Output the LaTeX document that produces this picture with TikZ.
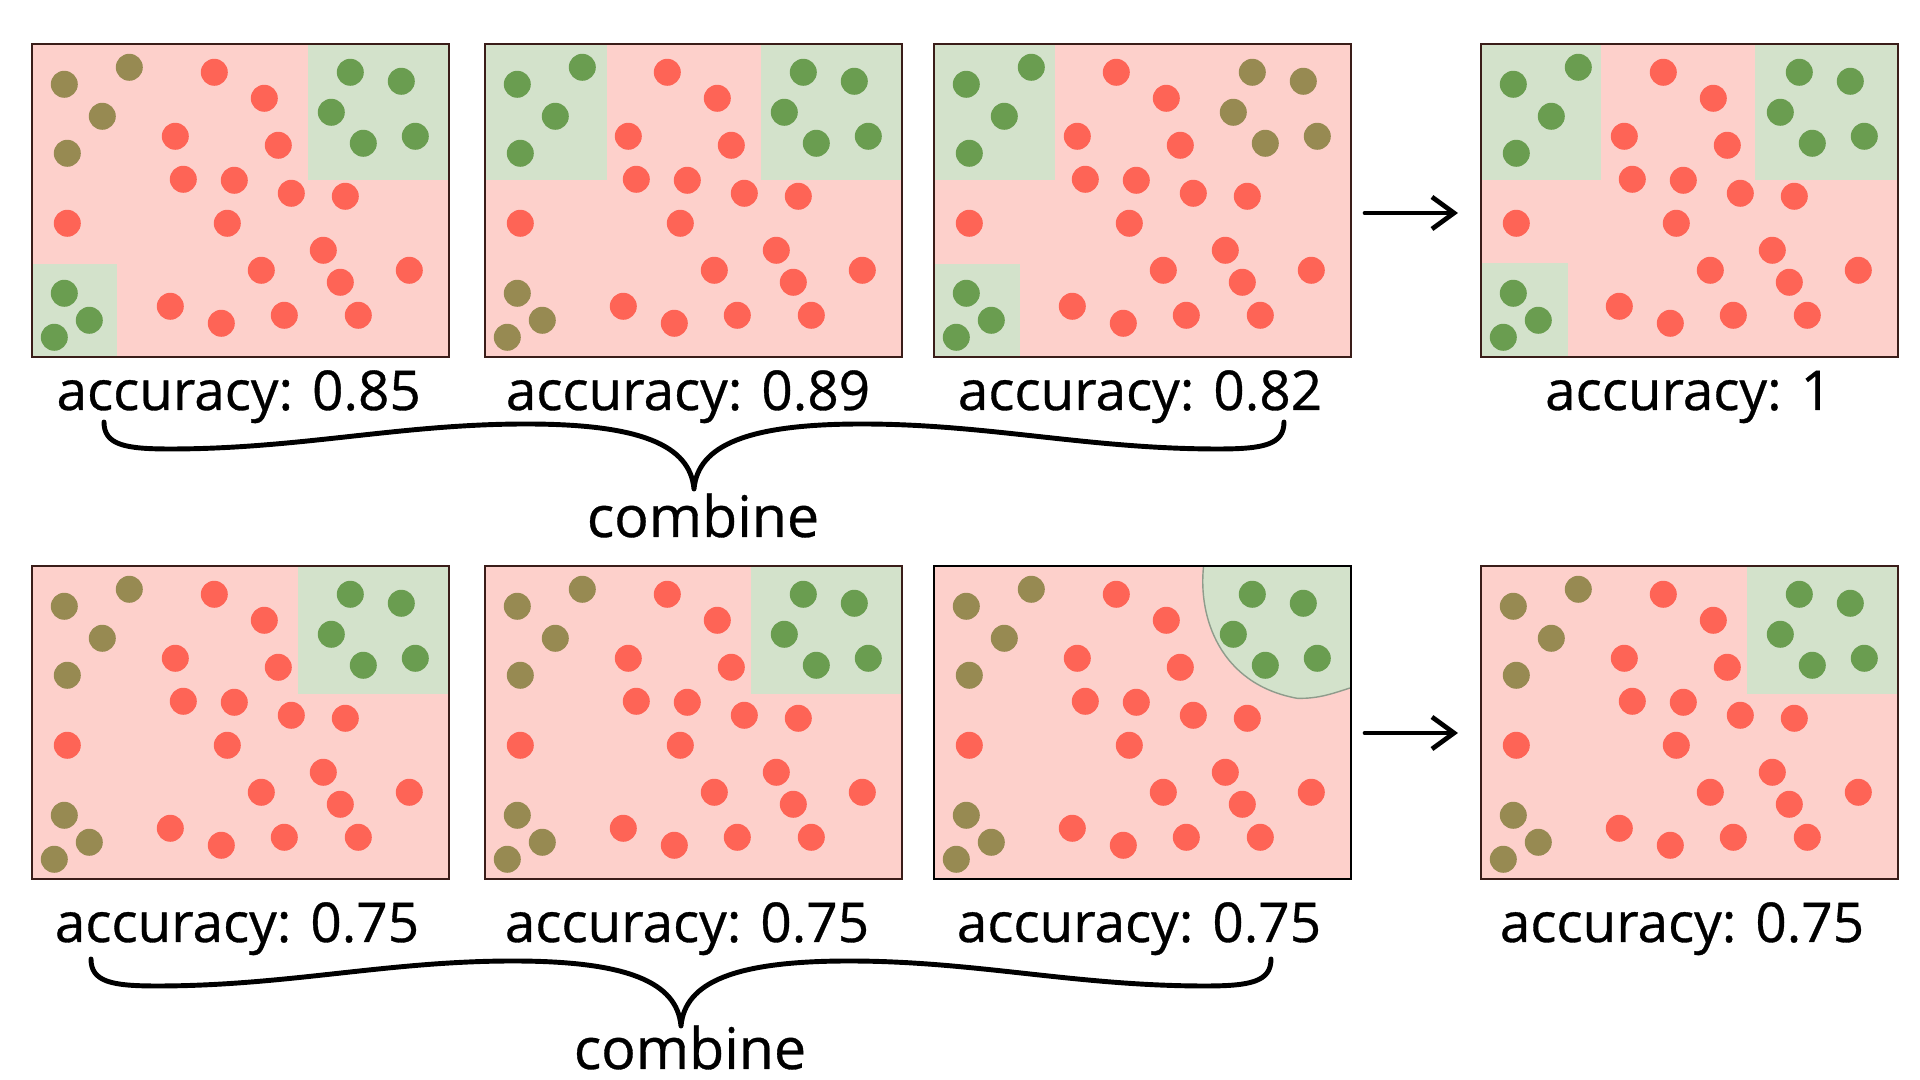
\documentclass[tikz,border=0pt]{standalone}
\usepackage{fontspec}
\setmainfont{Open Sans}[FakeBold=0.6]
\usetikzlibrary{arrows.meta}
\definecolor{bgpink}{HTML}{FDD0CB}
\definecolor{bggreen}{HTML}{D3E2CB}
\definecolor{dred}{HTML}{FE6456}
\definecolor{dgreen}{HTML}{6A9D50}
\definecolor{dolive}{HTML}{978A52}
\definecolor{framec}{HTML}{3A1D19}
\definecolor{blobline}{HTML}{8F9C8C}
\newcommand{\pdots}[3]{%
  \foreach \x/\y in {32.3/40.3, 97.3/23.3, 70.3/72.3, 35.3/109.3}
    \fill[#1] (\x,\y) circle[radius=13.5];
  \foreach \x/\y in {318.3/28.3, 369.3/37.3, 299.3/68.3, 331.3/99.3, 383.3/92.3}
    \fill[#2] (\x,\y) circle[radius=13.5];
  \foreach \x/\y in {32.3/249.3, 57.3/276.3, 22.3/293.3}
    \fill[#3] (\x,\y) circle[radius=13.5];
  \foreach \x/\y in {182.3/28.3, 232.3/54.3, 143.3/92.3, 246.3/101.3, 151.3/135.3,
      202.3/136.3, 259.3/149.3, 313.3/152.3, 35.3/179.3, 195.3/179.3, 291.3/206.3,
      229.3/226.3, 308.3/238.3, 377.3/226.3, 138.3/262.3, 189.3/279.3, 252.3/271.3, 326.3/271.3}
    \fill[dred] (\x,\y) circle[radius=13.5];
}
\newcommand{\combbrace}[2]{%
  \draw[bracestyle, shift={(#1,#2)}] (-590,-67) .. controls (-590,-44) and (-569,-40) .. (-524,-40)
    .. controls (-394,-40) and (-294,-65) .. (-168,-65)
    .. controls (-54,-65) and (-4,-44) .. (0,0)
    .. controls (4,-44) and (54,-65) .. (168,-65)
    .. controls (294,-65) and (394,-40) .. (524,-40)
    .. controls (569,-40) and (590,-44) .. (590,-67);
}
\begin{document}
\begin{tikzpicture}[x=0.01cm,y=-0.01cm,
  acc/.style={font=\fontsize{15.6}{18}\selectfont, anchor=base, inner sep=0pt},
  comb/.style={font=\fontsize{16.3}{19}\selectfont, anchor=base, inner sep=0pt},
  flow/.style={line width=1.34pt, line cap=round, line join=round, -{Straight Barb[length=0.22cm, width=0.32cm]}},
  bracestyle/.style={line width=1.4pt, line cap=round, line join=round},
  frame/.style={draw=framec, line width=0.57pt},
  region/.style={fill=bggreen}]
\useasboundingbox (0,0) rectangle (1920,1080);
\fill[white] (0,0) rectangle (1920,1080);

% ---------- top row ----------
\begin{scope}[shift={(32,44)}]
  \fill[bgpink] (0,0) rectangle (417,313);
  \fill[region] (276,0) rectangle (417,136);
  \fill[region] (0,220) rectangle (85,313);
  \pdots{dolive}{dgreen}{dgreen}
  \draw[frame] (0,0) rectangle (417,313);
\end{scope}
\begin{scope}[shift={(485,44)}]
  \fill[bgpink] (0,0) rectangle (417,313);
  \fill[region] (0,0) rectangle (122,136);
  \fill[region] (276,0) rectangle (417,136);
  \pdots{dgreen}{dgreen}{dolive}
  \draw[frame] (0,0) rectangle (417,313);
\end{scope}
\begin{scope}[shift={(934,44)}]
  \fill[bgpink] (0,0) rectangle (417,313);
  \fill[region] (0,0) rectangle (121,136);
  \fill[region] (0,220) rectangle (86,313);
  \pdots{dgreen}{dolive}{dgreen}
  \draw[frame] (0,0) rectangle (417,313);
\end{scope}
\begin{scope}[shift={(1481,44)}]
  \fill[bgpink] (0,0) rectangle (417,313);
  \fill[region] (0,0) rectangle (120,136);
  \fill[region] (274,0) rectangle (417,136);
  \fill[region] (0,219) rectangle (87,313);
  \pdots{dgreen}{dgreen}{dgreen}
  \draw[frame] (0,0) rectangle (417,313);
\end{scope}

% ---------- bottom row ----------
\begin{scope}[shift={(32,566)}]
  \fill[bgpink] (0,0) rectangle (417,313);
  \fill[region] (266,0) rectangle (417,128);
  \pdots{dolive}{dgreen}{dolive}
  \draw[frame] (0,0) rectangle (417,313);
\end{scope}
\begin{scope}[shift={(485,566)}]
  \fill[bgpink] (0,0) rectangle (417,313);
  \fill[region] (266,0) rectangle (417,128);
  \pdots{dolive}{dgreen}{dolive}
  \draw[frame] (0,0) rectangle (417,313);
\end{scope}
\begin{scope}[shift={(934,566)}]
  \fill[bgpink] (0,0) rectangle (417,313);
  \filldraw[fill=bggreen, draw=blobline, line width=0.4pt]
    (269.6,0) .. controls (264,50) and (285,118) .. (363,132.3)
    .. controls (385,133) and (400,127) .. (417,121.7) -- (417,0) -- cycle;
  \pdots{dolive}{dgreen}{dolive}
  \draw[draw=black, line width=0.8pt] (0,0) rectangle (417,313);
\end{scope}
\begin{scope}[shift={(1481,566)}]
  \fill[bgpink] (0,0) rectangle (417,313);
  \fill[region] (266,0) rectangle (417,128);
  \pdots{dolive}{dgreen}{dolive}
  \draw[frame] (0,0) rectangle (417,313);
\end{scope}

% ---------- labels ----------
\node[acc] (l1) at (238.7,410) {accuracy: 0.85};
\node[acc] (l2) at (688,410) {accuracy: 0.89};
\node[acc] (l3) at (1140,410) {accuracy: 0.82};
\node[acc] (l4) at (1688.6,410) {accuracy: 1};
\node[acc] (l5) at (237,942) {accuracy: 0.75};
\node[acc] (l6) at (687,942) {accuracy: 0.75};
\node[acc] (l7) at (1139,942) {accuracy: 0.75};
\node[acc] (l8) at (1682,942) {accuracy: 0.75};

\node[comb] (c1) at (703,537) {combine};
\node[comb] (c2) at (690,1069) {combine};

% ---------- braces ----------
\combbrace{694}{489}
\combbrace{681}{1026}

% ---------- arrows ----------
\coordinate (a1s) at (1365,213);
\coordinate (a1e) at (1458,213);
\coordinate (a2s) at (1365,733);
\coordinate (a2e) at (1458,733);
\draw[flow] (a1s) -- (a1e);
\draw[flow] (a2s) -- (a2e);
\end{tikzpicture}
\end{document}
